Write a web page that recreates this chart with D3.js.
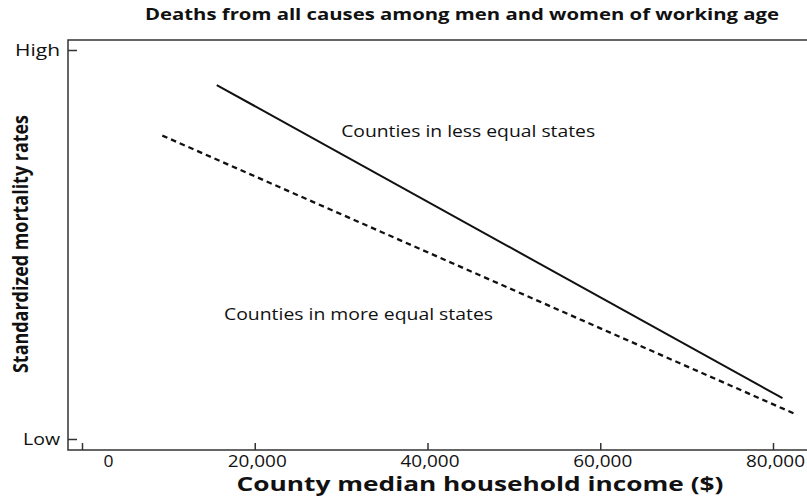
<!DOCTYPE html>
<html>
<head>
<meta charset="utf-8">
<script src="https://cdn.jsdelivr.net/npm/d3@7"></script>
<style>
  body { margin: 0; background: #fff; }
  text { font-family: "Open Sans", "Noto Sans", sans-serif; fill: #111; }
</style>
</head>
<body>
<div id="wrapper"></div>
<script>
const xTickValues = [0, 20000, 40000, 60000, 80000];
const yTickValues = [0, 10];
const yTickLabels = ["Low", "High"];

const seriesNames = ["Counties in less equal states", "Counties in more equal states"];
const lessEqualIncome = [15600, 81100];
const lessEqualRate = [9.1, 1.05];
const moreEqualIncome = [9300, 82800];
const moreEqualRate = [7.8, 0.62];

// where the two series labels sit, in data units
const labelIncome = [30000, 16440];
const labelRate = [7.76, 3.06];

// the reference type is set wide, so stretch each text to its width
function stretch(selection, width) {
  selection
    .attr("textLength", width)
    .attr("lengthAdjust", "spacingAndGlyphs");
}

function drawChart() {
  const dimensions = {
    width: 807,
    height: 499,
    frame: { left: 68, top: 40, bottom: 450 },
  };

  const svg = d3.select("#wrapper")
    .append("svg")
    .attr("width", dimensions.width)
    .attr("height", dimensions.height);

  const xScale = d3.scaleLinear()
    .domain([0, 80000])
    .range([82, 773]);

  const yScale = d3.scaleLinear()
    .domain([0, 10])
    .range([439, 50]);

  // frame: open on the right, runs off the page
  svg.append("path")
    .attr("d", `M${dimensions.width + 5},${dimensions.frame.top}H${dimensions.frame.left}V${dimensions.frame.bottom}H${dimensions.width + 5}`)
    .attr("fill", "none")
    .attr("stroke", "#333")
    .attr("stroke-width", 1.5);

  const xAxis = svg.append("g")
    .attr("transform", `translate(0, ${dimensions.frame.bottom})`)
    .call(d3.axisBottom(xScale)
      .tickValues(xTickValues)
      .tickSizeInner(-7)
      .tickSizeOuter(0)
      .tickFormat(d3.format(",")));
  xAxis.select(".domain").remove();
  xAxis.selectAll(".tick line").attr("stroke", "#333").attr("stroke-width", 1.5);
  xAxis.selectAll(".tick text")
    .attr("y", 6)
    .attr("dy", "0.71em")
    .attr("dx", d => d === 0 ? 26 : 2)
    .style("font-size", "15.5px")
    .style("font-family", "\"Open Sans\", sans-serif")
    .attr("fill", "#111")
    .each(function(d) { stretch(d3.select(this), d === 0 ? 10 : 59); });

  const yAxis = svg.append("g")
    .attr("transform", `translate(${dimensions.frame.left}, 0)`)
    .call(d3.axisLeft(yScale)
      .tickValues(yTickValues)
      .tickSizeInner(-9)
      .tickSizeOuter(0)
      .tickFormat((d, i) => yTickLabels[i]));
  yAxis.select(".domain").remove();
  yAxis.selectAll(".tick line").attr("stroke", "#333").attr("stroke-width", 1.5);
  yAxis.selectAll(".tick text")
    .attr("x", -8)
    .style("font-size", "16px")
    .style("font-family", "\"Open Sans\", sans-serif")
    .attr("fill", "#111")
    .each(function(d) { stretch(d3.select(this), d === 0 ? 37 : 45); });

  const lineGenerator = d3.line()
    .x(d => xScale(d[0]))
    .y(d => yScale(d[1]));

  svg.append("path")
    .attr("d", lineGenerator(d3.zip(lessEqualIncome, lessEqualRate)))
    .attr("fill", "none")
    .attr("stroke", "#111")
    .attr("stroke-width", 2);

  svg.append("path")
    .attr("d", lineGenerator(d3.zip(moreEqualIncome, moreEqualRate)))
    .attr("fill", "none")
    .attr("stroke", "#111")
    .attr("stroke-width", 2.3)
    .attr("stroke-dasharray", "5.5,4");

  const labelWidths = [254, 269];
  svg.selectAll(".series-label")
    .data(seriesNames)
    .join("text")
    .attr("class", "series-label")
    .attr("x", (d, i) => xScale(labelIncome[i]))
    .attr("y", (d, i) => yScale(labelRate[i]))
    .style("font-size", "17px")
    .text(d => d)
    .each(function(d, i) { stretch(d3.select(this), labelWidths[i]); });

  svg.append("text")
    .attr("x", 462)
    .attr("y", 20)
    .attr("text-anchor", "middle")
    .style("font-size", "16px")
    .style("font-weight", "bold")
    .text("Deaths from all causes among men and women of working age")
    .call(stretch, 634);

  svg.append("text")
    .attr("x", 480)
    .attr("y", 491)
    .attr("text-anchor", "middle")
    .style("font-size", "19.5px")
    .style("font-weight", "bold")
    .text("County median household income ($)")
    .call(stretch, 487);

  svg.append("text")
    .attr("transform", "translate(28, 244) rotate(-90)")
    .attr("text-anchor", "middle")
    .style("font-size", "21px")
    .style("font-weight", "bold")
    .text("Standardized mortality rates")
    .call(stretch, 258);
}

drawChart();
</script>
</body>
</html>
